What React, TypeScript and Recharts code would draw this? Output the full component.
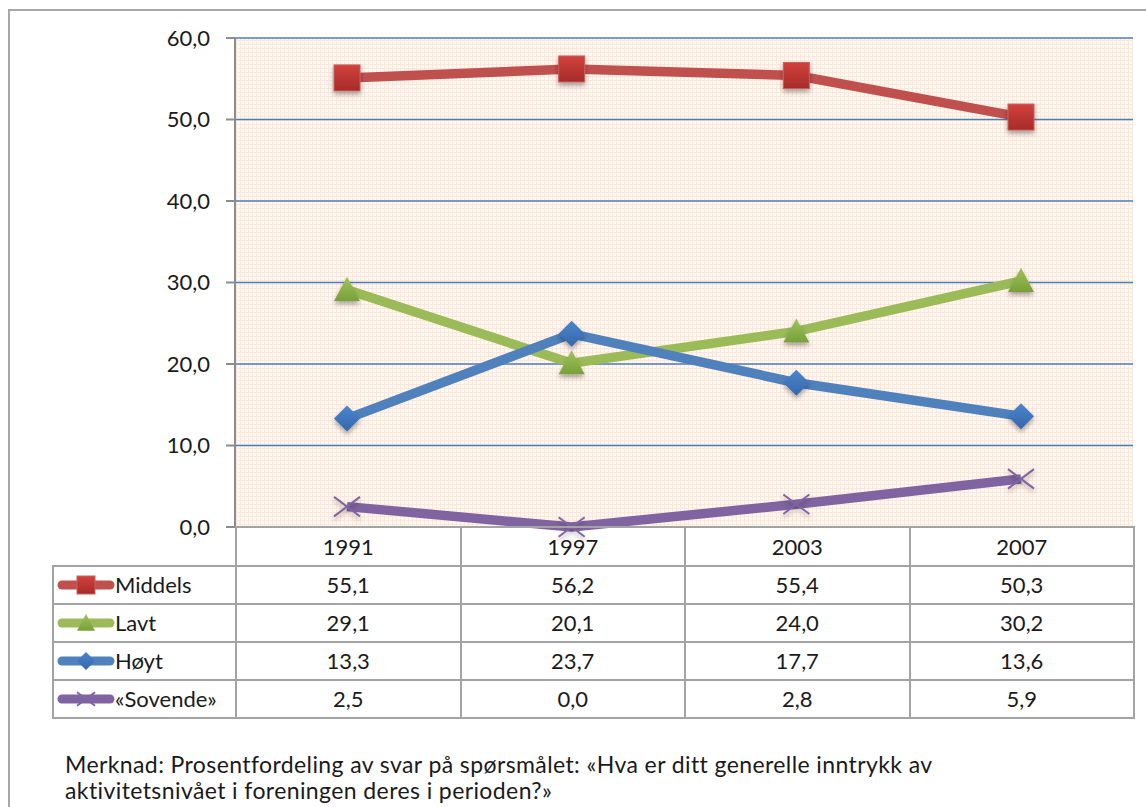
import React from "react"
import { LineChart, Line, XAxis, YAxis, CartesianGrid } from "recharts"

const years = ["1991", "1997", "2003", "2007"]
const middels = [55.1, 56.2, 55.4, 50.3]
const lavt = [29.1, 20.1, 24.0, 30.2]
const hoyt = [13.3, 23.7, 17.7, 13.6]
const sovende = [2.5, 0.0, 2.8, 5.9]
const yTicks = [0, 10, 20, 30, 40, 50, 60]

const FONT = "Lato, 'Open Sans', sans-serif"
const fmt = (v: number) => v.toFixed(1).replace(".", ",")

const chartData = years.map((y, i) => ({
  year: y,
  middels: middels[i],
  lavt: lavt[i],
  hoyt: hoyt[i],
  sovende: sovende[i],
}))

type Kind = "square" | "triangle" | "diamond" | "x"

const series: Array<{ key: string; name: string; color: string; kind: Kind; values: number[] }> = [
  { key: "middels", name: "Middels", color: "#c0504d", kind: "square", values: middels },
  { key: "lavt", name: "Lavt", color: "#9bbb59", kind: "triangle", values: lavt },
  { key: "hoyt", name: "Høyt", color: "#4f81bd", kind: "diamond", values: hoyt },
  { key: "sovende", name: "«Sovende»", color: "#8064a2", kind: "x", values: sovende },
]

function Marker({ kind, cx, cy, s, shadow }: { kind: Kind; cx: number; cy: number; s: number; shadow?: boolean }) {
  const f = shadow ? "url(#mshadow)" : undefined
  if (kind === "square")
    return <rect x={cx - s} y={cy - s} width={s * 2} height={s * 2} fill="url(#gRed)" stroke="#c9605c" strokeWidth={1} filter={f} />
  if (kind === "triangle")
    return <polygon points={`${cx},${cy - s} ${cx + s},${cy + s * 0.85} ${cx - s},${cy + s * 0.85}`} fill="url(#gGreen)" filter={f} />
  if (kind === "diamond")
    return <polygon points={`${cx},${cy - s} ${cx + s},${cy} ${cx},${cy + s} ${cx - s},${cy}`} fill="url(#gBlue)" filter={f} />
  return (
    <g stroke="#8064a2" strokeWidth={2} filter={f}>
      <line x1={cx - s} y1={cy - s * 0.75} x2={cx + s} y2={cy + s * 0.75} />
      <line x1={cx - s} y1={cy + s * 0.75} x2={cx + s} y2={cy - s * 0.75} />
    </g>
  )
}

const makeDot = (kind: Kind) => (props: any) => {
  const { cx, cy, index } = props
  if (cx == null || cy == null) return <g key={index} />
  return <Marker key={index} kind={kind} cx={cx} cy={cy} s={13} shadow />
}

function LegendKey({ color, kind }: { color: string; kind: Kind }) {
  return (
    <svg width={61} height={22} style={{ display: "block", flex: "none" }}>
      <line x1={8} y1={11} x2={56} y2={11} stroke={color} strokeWidth={9} strokeLinecap="round" />
      <Marker kind={kind} cx={32} cy={11} s={9} />
    </svg>
  )
}

const cellBorder = "2px solid #a3a3a3"
const colW = 224.5

export default function App() {
  return (
    <div style={{ position: "absolute", left: 0, top: 0, width: 1146, height: 807, overflow: "hidden", background: "#fff", fontFamily: FONT }}>
      <div style={{ position: "absolute", left: 8, top: 9, width: 1160, height: 820, border: "2px solid #a8a8a8" }} />
      <div style={{ position: "absolute", left: 0, top: 0 }}>
        <LineChart width={1146} height={560} data={chartData} margin={{ top: 38, right: 13, bottom: 33, left: 175 }}>
          <defs>
            <pattern id="bgPat" width="4" height="4" patternUnits="userSpaceOnUse">
              <rect width="4" height="4" fill="#fff8f3" />
              <rect x="0" y="0" width="4" height="1" fill="#fbe8dc" />
              <rect x="0" y="0" width="1" height="4" fill="#fbe8dc" />
            </pattern>
            <linearGradient id="gRed" x1="0" y1="0" x2="0" y2="1">
              <stop offset="0" stopColor="#d2413c" />
              <stop offset="1" stopColor="#a52b29" />
            </linearGradient>
            <linearGradient id="gGreen" x1="0" y1="0" x2="0" y2="1">
              <stop offset="0" stopColor="#9fc35a" />
              <stop offset="1" stopColor="#78a03a" />
            </linearGradient>
            <linearGradient id="gBlue" x1="0" y1="0" x2="0" y2="1">
              <stop offset="0" stopColor="#4a86cf" />
              <stop offset="1" stopColor="#3666a8" />
            </linearGradient>
            <filter id="mshadow" x="-50%" y="-50%" width="200%" height="200%">
              <feDropShadow dx="0" dy="3" stdDeviation="2.5" floodColor="#000" floodOpacity="0.35" />
            </filter>
          </defs>
          <CartesianGrid vertical={false} stroke="#4a7ebb" strokeWidth={1.5} fill="url(#bgPat)" fillOpacity={1} />
          <XAxis dataKey="year" hide padding={{ left: 112, right: 112 }} />
          <YAxis
            width={60}
            domain={[0, 60]}
            ticks={yTicks}
            tickFormatter={fmt}
            tick={{ fontSize: 22, fill: "#1a1a1a", fontFamily: FONT }}
            tickSize={9}
            tickMargin={16}
            axisLine={{ stroke: "#8c8c8c", strokeWidth: 2 }}
            tickLine={{ stroke: "#8c8c8c", strokeWidth: 2 }}
          />
          {series.map((s) => (
            <Line
              key={s.key}
              dataKey={s.key}
              stroke={s.color}
              strokeWidth={9.5}
              dot={makeDot(s.kind)}
              activeDot={false}
              isAnimationActive={false}
            />
          ))}
        </LineChart>
      </div>
      <table
        style={{
          position: "absolute",
          left: 52,
          top: 526,
          borderCollapse: "collapse",
          tableLayout: "fixed",
          fontFamily: FONT,
          fontSize: 22,
          color: "#1a1a1a",
        }}
      >
        <colgroup>
          <col style={{ width: 183 }} />
          {years.map((y) => (
            <col key={y} style={{ width: colW }} />
          ))}
        </colgroup>
        <tbody>
          <tr style={{ height: 39 }}>
            <td style={{ border: "none", padding: 0 }} />
            {years.map((y) => (
              <td key={y} style={{ border: cellBorder, textAlign: "center", padding: 0, lineHeight: "24px" }}>
                {y}
              </td>
            ))}
          </tr>
          {series.map((s) => (
            <tr key={s.key} style={{ height: 38 }}>
              <td style={{ border: cellBorder, padding: 0, whiteSpace: "nowrap" }}>
                <div style={{ display: "flex", alignItems: "center", lineHeight: "24px" }}>
                  <LegendKey color={s.color} kind={s.kind} />
                  <span>{s.name}</span>
                </div>
              </td>
              {s.values.map((v, i) => (
                <td key={i} style={{ border: cellBorder, textAlign: "center", padding: 0, lineHeight: "24px" }}>
                  {fmt(v)}
                </td>
              ))}
            </tr>
          ))}
        </tbody>
      </table>
      <div style={{ position: "absolute", left: 65, top: 751, fontSize: 23, lineHeight: "26px", letterSpacing: 0.4, color: "#1a1a1a", whiteSpace: "nowrap" }}>
        Merknad: Prosentfordeling av svar på spørsmålet: «Hva er ditt generelle inntrykk av
        <br />
        aktivitetsnivået i foreningen deres i perioden?»
      </div>
    </div>
  )
}
